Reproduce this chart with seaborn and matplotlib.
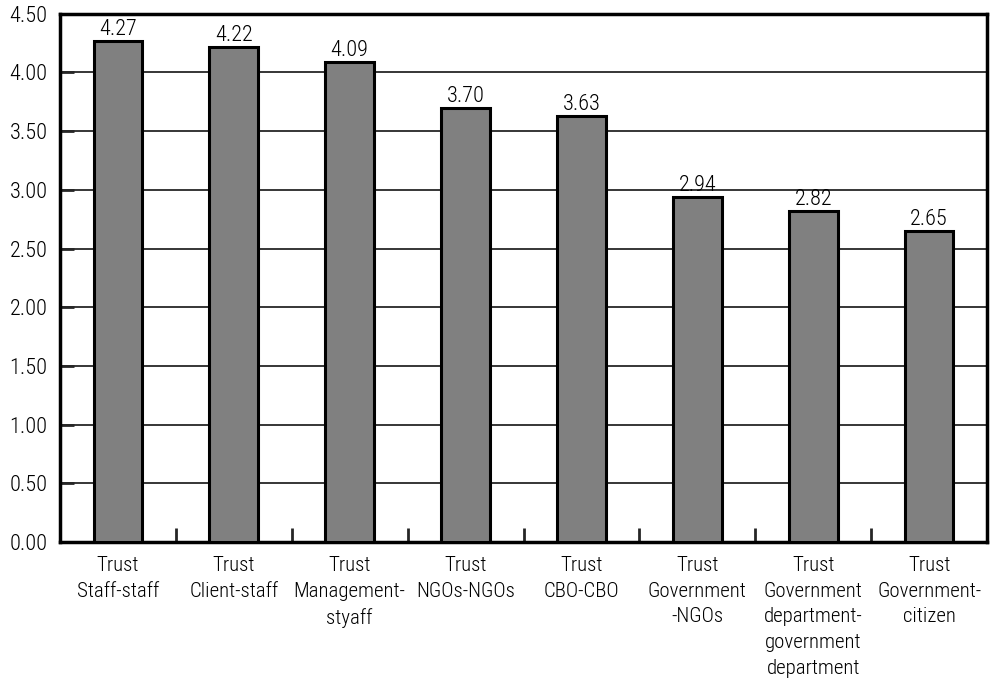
import matplotlib
matplotlib.use("Agg")
import matplotlib.pyplot as plt
import seaborn as sns
import pandas as pd
import numpy as np
from matplotlib.ticker import FixedLocator

categories = [
    "Trust\nStaff-staff",
    "Trust\nClient-staff",
    "Trust\nManagement-\nstyaff",
    "Trust\nNGOs-NGOs",
    "Trust\nCBO-CBO",
    "Trust\nGovernment\n-NGOs",
    "Trust\nGovernment\ndepartment-\ngovernment\ndepartment",
    "Trust\nGovernment-\ncitizen",
]
values = [4.27, 4.22, 4.09, 3.70, 3.63, 2.94, 2.82, 2.65]
value_labels = ["4.27", "4.22", "4.09", "3.70", "3.63", "2.94", "2.82", "2.65"]
y_ticks = [0.0, 0.5, 1.0, 1.5, 2.0, 2.5, 3.0, 3.5, 4.0, 4.5]

sns.set_theme(style="white")
plt.rcParams["font.family"] = ["Roboto Condensed", "DejaVu Sans"]
plt.rcParams["font.stretch"] = "condensed"
plt.rcParams["font.weight"] = "light"

LABEL_SIZE = 15
NUMBER_SIZE = 16
TEXT_COLOR = "black"

df = pd.DataFrame({"category": categories, "value": values})

fig = plt.figure(figsize=(9.93, 6.84), dpi=100)
ax = fig.add_axes([0.0604, 0.2075, 0.9336, 0.7725])

sns.barplot(data=df, x="category", y="value", color="#808080",
            saturation=1, width=0.42, edgecolor="black", linewidth=2.2,
            ax=ax, zorder=3)

ax.set_ylim(0, 4.5)
ax.set_xlim(-0.5, len(categories) - 0.5)
ax.set_yticks(y_ticks)
ax.set_yticklabels([f"{t:.2f}" for t in y_ticks], fontsize=NUMBER_SIZE, color=TEXT_COLOR)
ax.set_xticks(range(len(categories)))
ax.set_xticklabels(categories, fontsize=LABEL_SIZE, color=TEXT_COLOR, linespacing=1.45)
ax.set_xlabel("")
ax.set_ylabel("")

ax.yaxis.grid(True, color="black", linewidth=1.1, zorder=0)
ax.set_axisbelow(True)

# ticks: y inward on the left, x boundaries inward from the bottom
ax.tick_params(axis="y", direction="in", length=10, width=2, left=True, pad=9)
ax.tick_params(axis="x", which="major", length=0, pad=10)
ax.xaxis.set_minor_locator(FixedLocator(np.arange(0.5, len(categories) - 1, 1.0)))
ax.tick_params(axis="x", which="minor", direction="in", length=10, width=2, bottom=True)

for spine in ax.spines.values():
    spine.set_visible(True)
    spine.set_color("black")
    spine.set_linewidth(2.5)

# value labels sit on a baseline just above each bar
for i, (v, lab) in enumerate(zip(values, value_labels)):
    ax.annotate(lab, (i, v), xytext=(0, 4), textcoords="offset points",
                ha="center", va="baseline", fontsize=NUMBER_SIZE, color=TEXT_COLOR, zorder=4)

fig.savefig("out.png", dpi=100, facecolor="white")
